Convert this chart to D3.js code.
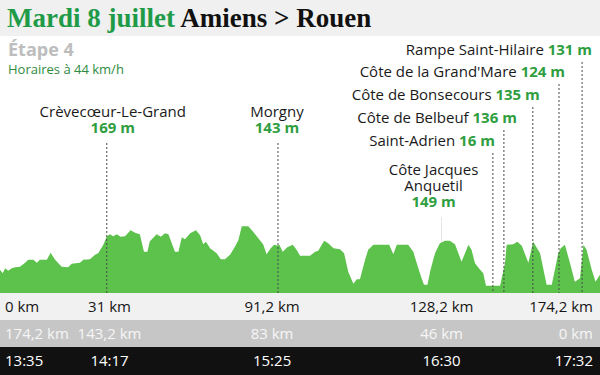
<!DOCTYPE html>
<html>
<head>
<meta charset="utf-8">
<script src="https://cdn.jsdelivr.net/npm/d3@7"></script>
<style>
  body { margin: 0; background: #fff; }
  svg { display: block; font-family: "Open Sans", sans-serif; }
</style>
</head>
<body>
<div id="chart"></div>
<script>
// profile of the stage: distance (km) and altitude (m)
var profileKm = [0, 0.8, 1.5, 2.4, 3.4, 4.4, 5.8, 7.3, 8.2, 9.7, 10.7, 11.6, 13.6, 14.7, 16.0, 17.9, 19.8, 20.8, 23.2, 24.2,
  26.1, 27.6, 28.5, 30.0, 31.0, 31.9, 32.9, 33.9, 35.0, 36.3, 37.9, 39.2, 40.6, 41.8, 42.8, 43.5, 45.5, 46.7, 47.9, 48.9,
  50.8, 51.8, 52.8, 53.7, 55.2, 56.9, 58.1, 59.0, 59.8, 61.0, 62.9, 64.1, 65.3, 66.8, 68.2, 69.2, 70.2, 72.1, 73.5, 75.0,
  76.4, 77.4, 78.6, 79.6, 80.5, 81.1, 82.1, 83.4, 85.0, 86.1, 87.1, 90.0, 91.5, 92.4, 94.1, 95.3, 96.8, 98.7, 99.9, 101.1,
  102.6, 103.6, 104.5, 106.0, 106.9, 108.4, 113.0, 114.2, 115.2, 118.5, 120.0, 121.0, 122.4, 123.1, 124.1, 125.0, 126.3, 127.7, 129.2, 130.6,
  132.1, 134.0, 136.0, 136.9, 137.9, 139.4, 140.3, 141.1, 145.2, 146.6, 147.1, 149.0, 150.2, 151.5, 153.4, 154.8, 156.8, 158.7, 160.2, 162.1,
  162.8, 164.0, 165.5, 166.9, 168.4, 169.4, 170.3, 171.8, 172.9, 174.2];
var profileAlt = [65, 55, 70, 62, 70, 73, 74, 86, 95, 95, 86, 95, 95, 116, 95, 74, 73, 83, 86, 95,
  97, 110, 115, 140, 165, 172, 166, 172, 164, 166, 184, 176, 172, 119, 119, 151, 172, 164, 175, 172,
  119, 119, 163, 157, 175, 184, 169, 142, 149, 130, 115, 97, 97, 110, 134, 154, 196, 196, 179, 160,
  142, 112, 130, 140, 138, 140, 119, 133, 140, 125, 107, 107, 119, 122, 152, 145, 130, 127, 115, 59,
  23, 37, 37, 95, 125, 140, 140, 112, 140, 140, 119, 85, 40, 20, 20, 65, 115, 145, 152, 152,
  142, 89, 140, 125, 85, 65, 55, 17, 17, 85, 140, 142, 149, 137, 86, 149, 115, 20, 20, 115,
  130, 140, 85, 29, 40, 140, 125, 65, 29, 50];

// climbs and landmarks
var climbNames = ["Crèvecœur-Le-Grand", "Morgny", "Côte Jacques Anquetil", "Saint-Adrien",
  "Côte de Belbeuf", "Côte de Bonsecours", "Côte de la Grand'Mare", "Rampe Saint-Hilaire"];
var climbKm = [31, 80.7, 128.2, 143.1, 146.3, 154.7, 162.3, 169.0];
var climbAlt = [169, 143, 149, 16, 136, 135, 124, 131];

// timetable rows
var tickKm = [0, 31.8, 79, 128.2, 174.2];
var tickDistance = ["0 km", "31 km", "91,2 km", "128,2 km", "174,2 km"];
var tickRemaining = ["174,2 km", "143,2 km", "83 km", "46 km", "0 km"];
var tickTime = ["13:35", "14:17", "15:25", "16:30", "17:32"];

var width = 600, height = 375;
var green = "#5cc24c", darkGreen = "#2f9e3f";
var bandTop = 293;

var x = d3.scaleLinear().domain([0, 174.2]).range([0, width]);
var y = d3.scaleLinear().domain([0, 200]).range([291.5, 224.8]);

var svg = d3.select("#chart").append("svg").attr("width", width).attr("height", height);

/* header */
svg.append("rect").attr("width", width).attr("height", 36).attr("fill", "#f0f0f0");
var title = svg.append("text").attr("x", 7).attr("y", 27)
  .style("font-family", "'Liberation Serif', serif").style("font-weight", "bold").style("font-size", "27px");
title.append("tspan").attr("fill", "#1f9b48").text("Mardi 8 juillet");
title.append("tspan").attr("fill", "#111").text(" Amiens > Rouen");

svg.append("text").attr("x", 8).attr("y", 56).attr("fill", "#bdbdbd")
  .style("font-weight", "bold").style("font-size", "18px").text("Étape 4");
svg.append("text").attr("x", 8).attr("y", 74).attr("fill", "#2e8b3e")
  .style("font-size", "13px").text("Horaires à 44 km/h");

/* profile */
var profile = profileKm.map(function(d, i) { return [d, profileAlt[i]]; });
var area = d3.area()
  .x(function(d) { return x(d[0]); })
  .y0(bandTop)
  .y1(function(d) { return y(d[1]); });
svg.append("path").datum(profile).attr("d", area).attr("fill", green);

/* climb labels: layout only, values come from the arrays above */
var labelLayout = [
  { top: 117, dx: 6, anchor: "middle", lines: ["Crèvecœur-Le-Grand"] },
  { top: 117, dx: -1, anchor: "middle", lines: ["Morgny"] },
  { top: 175, dx: -8, anchor: "middle", lines: ["Côte Jacques", "Anquetil"] },
  { top: 146, dx: 2, anchor: "end" },
  { top: 123, dx: 13, anchor: "end" },
  { top: 100, dx: 7, anchor: "end" },
  { top: 77, dx: 6, anchor: "end" },
  { top: 55, dx: 10, anchor: "end" }
];

var climbs = climbNames.map(function(n, i) {
  return { name: n, km: climbKm[i], alt: climbAlt[i], lay: labelLayout[i] };
});

climbs.forEach(function(c) {
  var cx = x(c.km), lay = c.lay, lineTop;
  if (lay.anchor == "middle") {
    var t = svg.append("text").attr("text-anchor", "middle").style("font-size", "15px");
    lay.lines.forEach(function(l, j) {
      t.append("tspan").attr("x", cx + lay.dx).attr("y", lay.top + j * 16).attr("fill", "#1a1a1a").text(l);
    });
    var yAlt = lay.top + lay.lines.length * 16;
    t.append("tspan").attr("x", cx + lay.dx).attr("y", yAlt)
      .attr("fill", darkGreen).style("font-weight", "bold").text(c.alt + " m");
    lineTop = yAlt + 10;
  } else {
    var t2 = svg.append("text").attr("text-anchor", "end").attr("x", cx + lay.dx).attr("y", lay.top)
      .style("font-size", "15px");
    t2.append("tspan").attr("fill", "#1a1a1a").text(c.name + " ");
    t2.append("tspan").attr("fill", darkGreen).style("font-weight", "bold").text(c.alt + " m");
    lineTop = lay.top + 7;
  }
  if (c.name == "Côte Jacques Anquetil") {
    svg.append("line").attr("x1", cx).attr("x2", cx).attr("y1", lineTop).attr("y2", y(c.alt))
      .attr("stroke", "#e4e4e4").attr("stroke-width", 1);
  } else {
    svg.append("line").attr("x1", cx).attr("x2", cx).attr("y1", lineTop).attr("y2", bandTop)
      .attr("stroke", "#4a4a4a").attr("stroke-width", 1).attr("stroke-dasharray", "2,2");
  }
});

/* timetable bands */
var bands = [
  { top: bandTop, h: 27, fill: "#f1f1f1", color: "#151515", labels: tickDistance },
  { top: 320, h: 27, fill: "#c6c6c6", color: "#f6f6f6", labels: tickRemaining },
  { top: 347, h: 28, fill: "#111111", color: "#ffffff", labels: tickTime }
];

bands.forEach(function(b) {
  svg.append("rect").attr("x", 0).attr("y", b.top).attr("width", width).attr("height", b.h).attr("fill", b.fill);
  svg.append("g").selectAll("text").data(b.labels).enter().append("text")
    .attr("x", function(d, i) {
      if (i == 0) return 5;
      if (i == b.labels.length - 1) return width - 7;
      return x(tickKm[i]);
    })
    .attr("y", b.top + 19)
    .attr("text-anchor", function(d, i) {
      return i == 0 ? "start" : (i == b.labels.length - 1 ? "end" : "middle");
    })
    .attr("fill", b.color)
    .style("font-size", "15px")
    .text(function(d) { return d; });
});
</script>
</body>
</html>
